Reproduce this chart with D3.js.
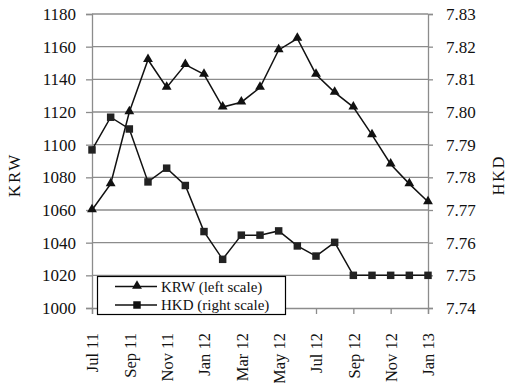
<!DOCTYPE html>
<html><head><meta charset="utf-8">
<script src="https://cdn.jsdelivr.net/npm/d3@7"></script>
<style>
html,body{margin:0;padding:0;background:#fff;}
svg{display:block;font-family:"Liberation Serif","Times New Roman",serif;}
</style></head>
<body><svg id="c" width="508" height="383"></svg>
<script>
const months = ["Jul 11","Aug 11","Sep 11","Oct 11","Nov 11","Dec 11","Jan 12","Feb 12","Mar 12","Apr 12","May 12","Jun 12","Jul 12","Aug 12","Sep 12","Oct 12","Nov 12","Dec 12","Jan 13"];
const krw = [1060, 1076, 1120, 1152, 1135, 1149, 1143, 1123, 1126, 1135, 1158, 1165, 1143, 1132, 1123, 1106, 1088, 1076, 1065];
const hkd = [7.7884, 7.7984, 7.7948, 7.7786, 7.7828, 7.7775, 7.7634, 7.7549, 7.7623, 7.7623, 7.7636, 7.7590, 7.7559, 7.7601, 7.75, 7.75, 7.75, 7.75, 7.75];
const leftTicks = [1000,1020,1040,1060,1080,1100,1120,1140,1160,1180];
const rightTicks = [7.74,7.75,7.76,7.77,7.78,7.79,7.80,7.81,7.82,7.83];
const xLabels = ["Jul 11","Sep 11","Nov 11","Jan 12","Mar 12","May 12","Jul 12","Sep 12","Nov 12","Jan 13"];
const seriesNames = ["KRW (left scale)","HKD (right scale)"];

const svg = d3.select("#c");
const L = 92, R = 428, T = 14, B = 308;
const x = d3.scalePoint().domain(months).range([L, R]).padding(0);
const yL = d3.scaleLinear().domain([1000,1180]).range([B, T]);
const yR = d3.scaleLinear().domain([7.74,7.83]).range([B, T]);
const grid = "#8c8c8c";

// gridlines
svg.append("g").selectAll("line").data(leftTicks.filter(d=>d>1000)).join("line")
  .attr("x1", L).attr("x2", R).attr("y1", d=>yL(d)).attr("y2", d=>yL(d))
  .attr("stroke", grid).attr("stroke-width", 1.3);

const gL = svg.append("g").attr("transform",`translate(${L},0)`)
  .call(d3.axisLeft(yL).tickValues(leftTicks).tickSize(6).tickPadding(10).tickFormat(d3.format("d")));
const gR = svg.append("g").attr("transform",`translate(${R},0)`)
  .call(d3.axisRight(yR).tickValues(rightTicks).tickSize(5).tickPadding(13).tickFormat(d3.format(".2f")));
const gB = svg.append("g").attr("transform",`translate(0,${B})`)
  .call(d3.axisBottom(x).tickValues(xLabels).tickSize(6).tickPadding(0));
gB.selectAll("text").attr("transform","rotate(-90)").attr("text-anchor","end")
  .attr("x",-25).attr("y",0).attr("dy","0.35em");

[gL,gR,gB].forEach(g=>{
  g.select(".domain").attr("stroke",grid).attr("stroke-width",1.3);
  g.selectAll(".tick line").attr("stroke",grid).attr("stroke-width",1.3);
  g.selectAll("text").attr("fill","#111").style("font-family","'Liberation Serif',serif").style("font-size","17px");
});
gB.selectAll("text").style("font-size","16.5px");

svg.append("text").attr("transform","translate(20,175) rotate(-90)").attr("text-anchor","middle")
  .style("font-size","17px").style("letter-spacing","2px").attr("fill","#111").text("KRW");
svg.append("text").attr("transform","translate(504,175) rotate(-90)").attr("text-anchor","middle")
  .style("font-size","16px").style("letter-spacing","2px").attr("fill","#111").text("HKD");

const lineK = d3.line().x((d,i)=>x(months[i])).y(d=>yL(d));
const lineH = d3.line().x((d,i)=>x(months[i])).y(d=>yR(d));
svg.append("path").datum(hkd).attr("d",lineH).attr("fill","none").attr("stroke","#111").attr("stroke-width",1.5);
svg.append("path").datum(krw).attr("d",lineK).attr("fill","none").attr("stroke","#111").attr("stroke-width",1.5);

const tri = d3.symbol().type(d3.symbolTriangle).size(42);
const sq = d3.symbol().type(d3.symbolSquare).size(56);
svg.append("g").selectAll("path").data(hkd).join("path")
  .attr("d",sq).attr("transform",(d,i)=>`translate(${x(months[i])},${yR(d)})`).attr("fill","#222");
svg.append("g").selectAll("path").data(krw).join("path")
  .attr("d",tri).attr("transform",(d,i)=>`translate(${x(months[i])},${yL(d)-0.5})`).attr("fill","#111");

const lg = svg.append("g");
lg.append("rect").attr("x",97.5).attr("y",276.5).attr("width",188).attr("height",38)
  .attr("fill","#fff").attr("stroke","#000").attr("stroke-width",1.2);
const ly = [286.5, 305];
seriesNames.forEach((name,i)=>{
  lg.append("line").attr("x1",115).attr("x2",157).attr("y1",ly[i]).attr("y2",ly[i]).attr("stroke","#111").attr("stroke-width",1.5);
  lg.append("path").attr("d", i===0?tri:sq).attr("transform",`translate(137,${ly[i]-(i===0?0.5:0)})`).attr("fill","#111");
  lg.append("text").attr("x",161).attr("y",ly[i]).attr("dy","0.35em").style("font-size","15px").attr("fill","#111").text(name);
});
</script></body></html>
